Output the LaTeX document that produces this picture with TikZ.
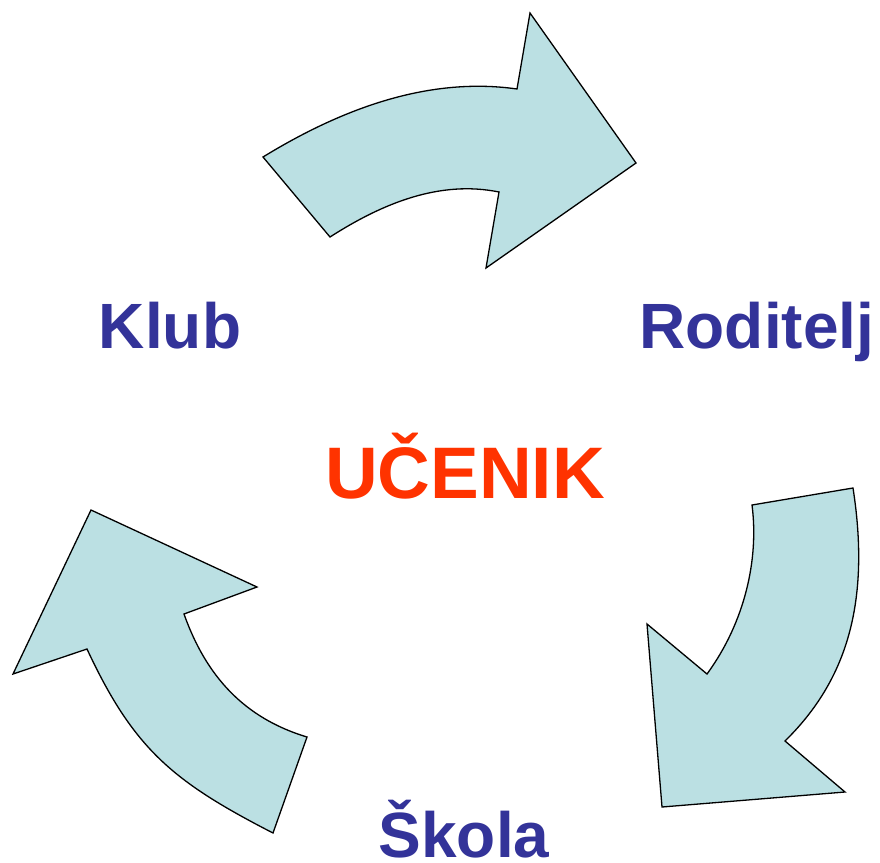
\documentclass[tikz,border=0pt]{standalone}
\usepackage{fontspec}
\setmainfont{Liberation Sans}
\usetikzlibrary{positioning}
\definecolor{arrowcyan}{RGB}{187,224,227}
\definecolor{roleblue}{RGB}{51,51,153}
\definecolor{pupilred}{RGB}{255,51,0}
\tikzset{
  cyclearrow/.style={draw=black,fill=arrowcyan,line width=1.3pt,line join=miter},
  role/.style={font=\fontsize{64}{70}\selectfont\bfseries,text=roleblue,anchor=base,inner sep=0pt},
  pupil/.style={font=\fontsize{73}{80}\selectfont\bfseries,text=pupilred,anchor=base,inner sep=0pt}
}
\begin{document}
\begin{tikzpicture}[x=1pt,y=-1pt]
\useasboundingbox (0,0) rectangle (880,862);
% Klub -> Roditelj
\draw[cyclearrow] (263,157) .. controls (338,111) and (426,76) .. (517,89)
  -- (530,13) -- (636,163) -- (486,268) -- (499,192)
  .. controls (440,180) and (383,203) .. (330,237) -- cycle;
% Roditelj -> Skola
\draw[cyclearrow] (853,488) .. controls (872,610) and (842,685) .. (785,741)
  -- (845,792) -- (662,807) -- (647,624) -- (707,674)
  .. controls (745,622) and (759,559) .. (752,505) -- cycle;
% Skola -> Klub
\draw[cyclearrow] (273,833) .. controls (174,782) and (134,750) .. (87,649)
  -- (13,674) -- (91,510) -- (257,587) -- (184,614)
  .. controls (206,676) and (244,718) .. (307,737) -- cycle;
% labels
\node[role] (klub) at (170,348) {Klub};
\node[role] (roditelj) at (757,348) {Roditelj};
\node[role] (skola) at (464,857) {Škola};
\node[pupil] (ucenik) at (465,498) {UČENIK};
\end{tikzpicture}
\end{document}
